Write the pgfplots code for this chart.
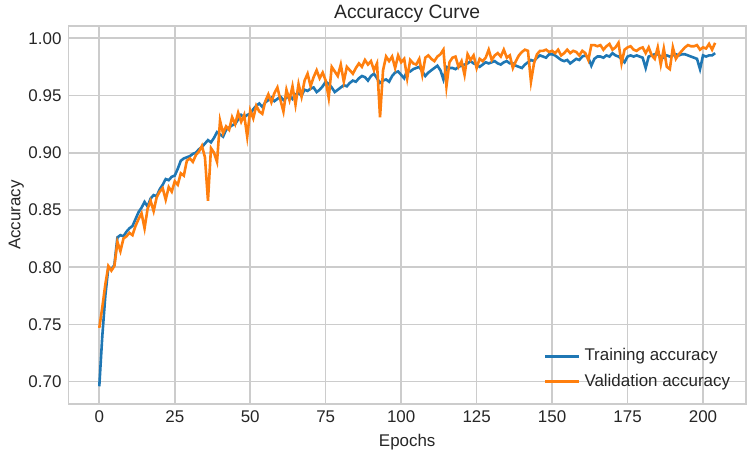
\documentclass[border=0pt]{standalone}
\usepackage{pgfplots}
\pgfplotsset{compat=1.18}
\usepackage{pgfplotstable}
\usepackage{fontspec}
\setmainfont{Liberation Sans}

\definecolor{tabblue}{HTML}{1F77B4}
\definecolor{taborange}{HTML}{FF7F0E}
\definecolor{gridgray}{HTML}{CCCCCC}
\definecolor{textgray}{HTML}{262626}

% epoch, training accuracy, validation accuracy
\pgfplotstableread{
epoch train val
0 0.696 0.747
1 0.740 0.765
2 0.775 0.785
3 0.800 0.801
4 0.798 0.797
5 0.802 0.801
6 0.826 0.822
7 0.828 0.814
8 0.827 0.825
9 0.831 0.827
10 0.834 0.830
11 0.836 0.828
12 0.842 0.836
13 0.848 0.842
14 0.852 0.847
15 0.857 0.834
16 0.853 0.851
17 0.860 0.858
18 0.863 0.849
19 0.862 0.861
20 0.868 0.866
21 0.872 0.869
22 0.877 0.859
23 0.876 0.870
24 0.879 0.866
25 0.880 0.875
26 0.886 0.872
27 0.893 0.882
28 0.895 0.880
29 0.896 0.893
30 0.897 0.895
31 0.899 0.892
32 0.900 0.898
33 0.903 0.901
34 0.905 0.906
35 0.908 0.896
36 0.911 0.858
37 0.909 0.904
38 0.913 0.900
39 0.918 0.892
40 0.916 0.928
41 0.914 0.917
42 0.920 0.923
43 0.922 0.920
44 0.924 0.931
45 0.925 0.925
46 0.929 0.935
47 0.933 0.927
48 0.931 0.933
49 0.933 0.914
50 0.934 0.937
51 0.938 0.930
52 0.941 0.941
53 0.943 0.936
54 0.940 0.934
55 0.944 0.945
56 0.946 0.951
57 0.948 0.944
58 0.945 0.952
59 0.947 0.957
60 0.949 0.946
61 0.946 0.936
62 0.948 0.955
63 0.950 0.946
64 0.947 0.958
65 0.951 0.942
66 0.952 0.960
67 0.950 0.949
68 0.955 0.963
69 0.954 0.969
70 0.956 0.958
71 0.957 0.966
72 0.953 0.972
73 0.955 0.965
74 0.958 0.970
75 0.962 0.963
76 0.960 0.948
77 0.957 0.975
78 0.953 0.971
79 0.955 0.967
80 0.957 0.977
81 0.959 0.962
82 0.958 0.975
83 0.961 0.972
84 0.963 0.969
85 0.962 0.974
86 0.965 0.978
87 0.967 0.975
88 0.966 0.981
89 0.963 0.977
90 0.967 0.980
91 0.969 0.972
92 0.965 0.978
93 0.961 0.931
94 0.963 0.972
95 0.964 0.984
96 0.962 0.980
97 0.967 0.984
98 0.970 0.974
99 0.971 0.985
100 0.968 0.979
101 0.965 0.982
102 0.972 0.965
103 0.971 0.981
104 0.973 0.978
105 0.974 0.977
106 0.975 0.982
107 0.971 0.968
108 0.967 0.983
109 0.970 0.985
110 0.972 0.982
111 0.974 0.980
112 0.976 0.984
113 0.972 0.986
114 0.964 0.990
115 0.975 0.958
116 0.974 0.979
117 0.974 0.983
118 0.973 0.984
119 0.975 0.975
120 0.976 0.980
121 0.977 0.968
122 0.978 0.986
123 0.980 0.981
124 0.978 0.985
125 0.977 0.974
126 0.975 0.982
127 0.977 0.980
128 0.979 0.983
129 0.978 0.990
130 0.979 0.981
131 0.980 0.985
132 0.978 0.987
133 0.977 0.984
134 0.979 0.990
135 0.980 0.983
136 0.978 0.985
137 0.978 0.974
138 0.976 0.980
139 0.975 0.985
140 0.974 0.988
141 0.977 0.990
142 0.979 0.989
143 0.981 0.962
144 0.980 0.978
145 0.983 0.986
146 0.985 0.989
147 0.984 0.989
148 0.983 0.990
149 0.986 0.988
150 0.986 0.989
151 0.985 0.987
152 0.983 0.990
153 0.981 0.985
154 0.980 0.987
155 0.981 0.990
156 0.978 0.987
157 0.980 0.989
158 0.982 0.988
159 0.981 0.985
160 0.984 0.989
161 0.985 0.987
162 0.983 0.981
163 0.976 0.994
164 0.982 0.994
165 0.984 0.993
166 0.984 0.994
167 0.983 0.990
168 0.985 0.993
169 0.984 0.995
170 0.987 0.990
171 0.985 0.992
172 0.984 0.996
173 0.982 0.978
174 0.979 0.990
175 0.984 0.992
176 0.985 0.993
177 0.984 0.990
178 0.985 0.989
179 0.984 0.991
180 0.983 0.992
181 0.974 0.987
182 0.984 0.992
183 0.985 0.985
184 0.986 0.982
185 0.986 0.992
186 0.984 0.977
187 0.983 0.991
188 0.985 0.975
189 0.984 0.973
190 0.985 0.992
191 0.986 0.982
192 0.985 0.986
193 0.986 0.989
194 0.986 0.992
195 0.985 0.994
196 0.984 0.993
197 0.983 0.993
198 0.982 0.994
199 0.973 0.990
200 0.985 0.992
201 0.984 0.991
202 0.985 0.995
203 0.985 0.990
204 0.987 0.996
}\acc

\begin{document}
\begin{tikzpicture}
\useasboundingbox (-34.25bp,-24.55bp) rectangle (340.75bp,201.95bp);
\begin{axis}[
    at={(0,0)}, anchor=south west,
    scale only axis,
    width=338.7bp, height=188.9bp,
    xmin=-10.2, xmax=214.2,
    ymin=0.6806, ymax=1.0106,
    xtick={0,25,...,200},
    ytick={0.70,0.75,...,1.00},
    yticklabel style={/pgf/number format/.cd, fixed, fixed zerofill, precision=2},
    /pgf/number format/assume math mode=true,
    major tick length=0pt,
    tick label style={font=\fontsize{8.5}{10}\selectfont, color=textgray},
    grid=major,
    grid style={gridgray, line width=0.8bp},
    axis line style={gridgray, line width=0.9bp},
    title={Accuraccy Curve},
    every axis title/.style={at={(0.5,1)}, anchor=south, inner sep=0pt,
        yshift=1.5bp, font=\fontsize{9.7}{11}\selectfont, color=textgray},
    xlabel={Epochs},
    ylabel={Accuracy},
    label style={font=\fontsize{8.5}{10}\selectfont, color=textgray},
    ylabel style={yshift=-4.5bp},
    xlabel style={yshift=1bp},
    legend style={at={(rel axis cs:0.992,0.017)}, anchor=south east,
        draw=none, fill=none, font=\fontsize{8.5}{10}\selectfont,
        text=textgray, row sep=1bp},
    legend cell align=left,
]
\addplot[tabblue, line width=1.3bp] table[x=epoch, y=train] {\acc};
\addlegendentry{Training accuracy}
\addplot[taborange, line width=1.3bp] table[x=epoch, y=val] {\acc};
\addlegendentry{Validation accuracy}
\end{axis}
\end{tikzpicture}
\end{document}
